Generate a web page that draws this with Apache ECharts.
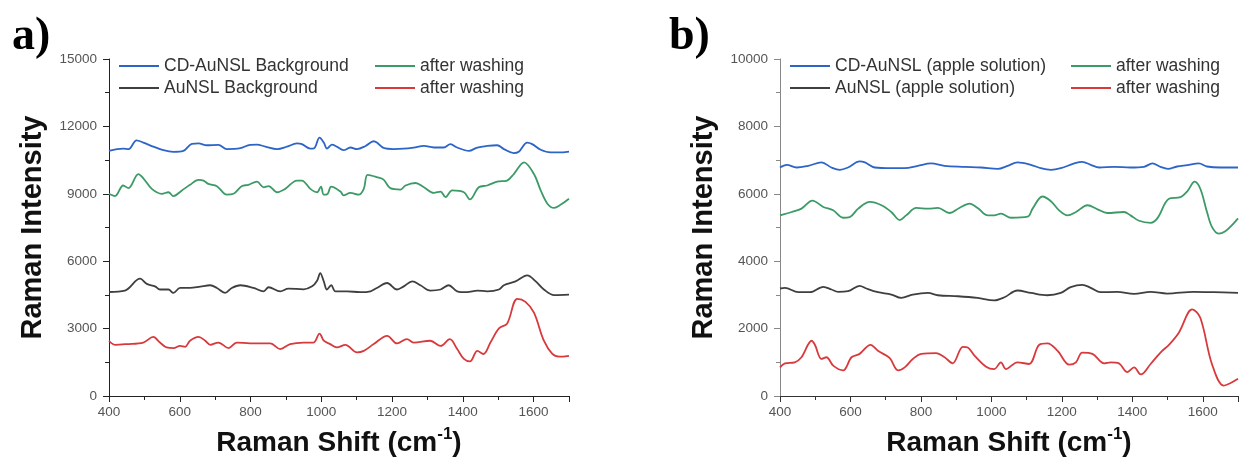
<!DOCTYPE html>
<html>
<head>
<meta charset="utf-8">
<script src="https://cdn.jsdelivr.net/npm/echarts@6/dist/echarts.min.js"></script>
<style>
html,body{margin:0;padding:0;background:#fff;}
#chart{width:1241px;height:462px;}
</style>
</head>
<body>
<div id="chart"></div>
<script>
// ---------- Panel a) ----------
const aCdBgX = [400,440,455,478,497,525,554,582,610,634,653,676,709,733,771,799,818,842,875,903,931,945,969,980,995,1007,1016,1030,1044,1063,1082,1101,1125,1148,1157,1176,1205,1233,1261,1290,1318,1346,1365,1384,1417,1441,1469,1497,1516,1544,1558,1582,1596,1620,1648,1672,1700];
const aCdBgY = [10910,11010,10990,11380,11280,11100,10940,10870,10910,11220,11240,11160,11180,10990,11030,11180,11190,11100,10990,11100,11240,11210,11010,11030,11500,11280,11010,11190,11100,10940,11060,10990,11130,11340,11280,11040,10990,11010,11060,11130,11060,11060,11210,11060,10910,11060,11130,11160,10990,10810,10870,11280,11210,10960,10840,10840,10880];

const aCdWashX = [400,417,440,455,483,497,521,549,568,582,606,629,653,667,681,705,733,752,775,794,818,837,851,875,898,931,945,969,988,999,1007,1018,1028,1054,1063,1082,1106,1120,1131,1157,1176,1195,1224,1238,1266,1290,1318,1337,1351,1370,1403,1420,1445,1469,1497,1525,1544,1573,1601,1620,1639,1658,1676,1700];
const aCdWashY = [9000,8900,9370,9250,9880,9690,9220,9000,9070,8900,9150,9400,9620,9590,9440,9340,8960,9000,9340,9400,9540,9290,9340,9070,9220,9590,9590,9220,9070,9320,8960,9000,9320,9100,8930,9040,8960,9220,9840,9740,9630,9250,9190,9370,9480,9290,9040,9100,8850,9150,9070,8750,9290,9370,9540,9590,9880,10400,9880,9150,8560,8370,8510,8780];

const aAuBgX = [400,445,488,507,530,544,568,582,601,629,658,686,705,728,747,771,808,837,851,884,907,950,974,988,997,1007,1016,1028,1040,1073,1110,1139,1157,1186,1214,1233,1257,1280,1308,1337,1360,1384,1412,1441,1469,1502,1516,1549,1582,1606,1629,1658,1700];
const aAuBgY = [4630,4690,5220,4990,4880,4740,4740,4590,4810,4810,4870,4930,4810,4590,4810,4930,4810,4660,4840,4660,4780,4750,4880,5130,5470,5100,4740,4930,4660,4660,4620,4660,4810,5030,4740,4880,5100,4930,4690,4740,4930,4660,4620,4690,4660,4740,4930,5100,5370,5100,4740,4490,4510];

const aAuWashX = [400,417,450,497,525,544,563,582,601,615,629,653,672,686,709,738,761,799,856,884,912,950,978,995,1007,1025,1044,1068,1101,1120,1148,1186,1214,1242,1261,1308,1337,1363,1384,1403,1420,1441,1458,1478,1502,1525,1554,1577,1601,1629,1653,1672,1700];
const aAuWashY = [2460,2280,2310,2380,2630,2380,2160,2130,2230,2190,2460,2630,2460,2280,2380,2130,2380,2340,2340,2090,2310,2380,2380,2780,2460,2310,2160,2280,1940,2010,2310,2680,2340,2530,2380,2460,2230,2530,2090,1650,1540,2010,1870,2380,3010,3220,4320,4190,3710,2460,1870,1750,1790];

// ---------- Panel b) ----------
const bCdAppleX = [400,419,447,480,518,546,570,593,626,641,669,716,754,791,829,867,924,971,1018,1046,1074,1112,1140,1169,1197,1235,1258,1282,1306,1348,1395,1433,1457,1480,1501,1527,1556,1589,1612,1650,1700];
const bCdAppleY = [6780,6860,6780,6830,6930,6780,6710,6780,6960,6930,6780,6760,6760,6830,6900,6830,6800,6780,6740,6830,6930,6860,6760,6710,6760,6900,6950,6860,6780,6800,6780,6800,6900,6800,6740,6810,6850,6900,6810,6780,6780];

const bCdWashX = [400,433,461,492,523,551,579,598,622,655,688,716,740,758,787,820,848,881,909,938,961,990,1008,1027,1056,1103,1117,1145,1169,1192,1216,1240,1273,1301,1329,1376,1395,1419,1452,1471,1504,1537,1556,1577,1593,1612,1626,1645,1664,1683,1700];
const bCdWashY = [5360,5460,5560,5800,5610,5510,5290,5310,5560,5760,5660,5460,5220,5360,5580,5560,5580,5430,5580,5710,5580,5360,5360,5410,5290,5320,5560,5920,5780,5510,5360,5460,5660,5540,5430,5460,5360,5200,5140,5270,5850,5900,6070,6360,6150,5460,5020,4820,4890,5070,5270];

const bAuAppleX = [400,414,452,485,523,546,565,593,626,645,678,716,744,777,820,848,905,961,1008,1037,1074,1112,1159,1197,1225,1258,1282,1310,1357,1405,1452,1499,1574,1631,1700];
const bAuAppleY = [3190,3210,3080,3080,3240,3160,3090,3110,3270,3190,3080,3010,2910,3010,3060,2990,2960,2910,2840,2930,3130,3060,2990,3060,3230,3300,3210,3080,3090,3030,3090,3040,3090,3080,3060];

const bAuWashX = [400,414,442,461,490,499,518,532,551,579,603,626,657,678,711,735,754,777,801,843,867,890,919,933,952,985,1008,1027,1041,1074,1107,1136,1159,1188,1221,1240,1258,1287,1320,1339,1362,1386,1405,1424,1452,1480,1504,1532,1570,1593,1626,1659,1678,1700];
const bAuWashY = [850,970,1000,1150,1640,1520,1100,1150,900,760,1150,1250,1520,1340,1130,760,850,1100,1250,1270,1150,970,1460,1440,1200,870,800,1000,800,1000,950,1520,1560,1340,930,1000,1290,1250,970,1000,970,710,850,640,950,1290,1520,1880,2570,2320,950,310,380,510];

// legend texts
const legendText = {
  aCdBg: 'CD-AuNSL Background', aCdWash: 'after washing',
  aAuBg: 'AuNSL Background', aAuWash: 'after washing',
  bCdApple: 'CD-AuNSL (apple solution)', bCdWash: 'after washing',
  bAuApple: 'AuNSL (apple solution)', bAuWash: 'after washing'
};

const BLUE = '#2c64c8', GREEN = '#3c9a66', GRAY = '#3f3f3f', RED = '#d83a3c';
const SANS = '"Liberation Sans", Arial, sans-serif';

function zip(xs, ys){ return xs.map((x,i)=>[x, ys[i]]); }
function line(id, xi, xs, ys, color){
  return {
    id: id, name: id, type: 'line', xAxisIndex: xi, yAxisIndex: xi,
    data: zip(xs, ys), symbol: 'none', smooth: 0.35,
    lineStyle: {color: color, width: 1.8}, itemStyle: {color: color},
    emphasis: {disabled: true}, animation: false
  };
}

function xAxis(gi, axisColor){
  return {
    type: 'value', gridIndex: gi, min: 400, max: 1700, interval: 200,
    axisLine: {show: true, lineStyle: {color: axisColor, width: 1}},
    axisTick: {show: true, length: 6, lineStyle: {color: axisColor}},
    minorTick: {show: true, splitNumber: 2, length: 4, lineStyle: {color: axisColor}},
    splitLine: {show: false},
    axisLabel: {fontSize: 13.5, color: '#555', margin: 9, fontFamily: SANS,
      formatter: v => (v === 1700 ? '' : String(v))},
    name: '{a|Raman Shift (cm}{s|-1}{a|)}',
    nameLocation: 'middle', nameGap: 30,
    nameTextStyle: {
      rich: {
        a: {fontSize: 28, fontWeight: 'bold', fontFamily: SANS, color: '#111', lineHeight: 34},
        s: {fontSize: 17, fontWeight: 'bold', fontFamily: SANS, color: '#111', verticalAlign: 'top', lineHeight: 17}
      }
    }
  };
}
function yAxis(gi, max, interval, axisColor){
  return {
    type: 'value', gridIndex: gi, min: 0, max: max, interval: interval,
    axisLine: {show: true, lineStyle: {color: axisColor, width: 1}},
    axisTick: {show: true, length: 6, lineStyle: {color: axisColor}},
    minorTick: {show: true, splitNumber: 2, length: 4, lineStyle: {color: axisColor}},
    splitLine: {show: false},
    axisLabel: {fontSize: 13.5, color: '#555', margin: 12, fontFamily: SANS,
      formatter: v => String(v)},
    name: 'Raman Intensity', nameLocation: 'middle', nameGap: 62,
    nameTextStyle: {fontSize: 29, fontWeight: 'bold', fontFamily: SANS, color: '#111'}
  };
}
function legend(left, names){
  return {
    left: left, top: 57, orient: 'vertical', padding: 0, itemGap: 4,
    itemWidth: 40, itemHeight: 2.2, icon: 'rect', selectedMode: false,
    data: names, formatter: n => legendText[n],
    textStyle: {fontSize: 17.5, color: '#333', fontFamily: SANS, lineHeight: 18}
  };
}

const chart = echarts.init(document.getElementById('chart'), null, {renderer: 'canvas'});
chart.setOption({
  backgroundColor: '#fff',
  animation: false,
  grid: [
    {left: 109, right: 672, top: 59, bottom: 63},
    {left: 780, right: 1, top: 59, bottom: 63}
  ],
  xAxis: [xAxis(0, '#222'), xAxis(1, '#333')],
  yAxis: [yAxis(0, 15000, 3000, '#222'), yAxis(1, 10000, 2000, '#888')],
  legend: [
    legend(119, ['aCdBg', 'aAuBg']),
    legend(375, ['aCdWash', 'aAuWash']),
    legend(790, ['bCdApple', 'bAuApple']),
    legend(1071, ['bCdWash', 'bAuWash'])
  ],
  graphic: [
    {type: 'text', left: 12, top: 14, style: {text: 'a)', font: 'bold 46px "Liberation Serif", "Times New Roman", serif', fill: '#000'}},
    {type: 'text', left: 669, top: 14, style: {text: 'b)', font: 'bold 46px "Liberation Serif", "Times New Roman", serif', fill: '#000'}}
  ],
  series: [
    line('aCdBg', 0, aCdBgX, aCdBgY, BLUE),
    line('aCdWash', 0, aCdWashX, aCdWashY, GREEN),
    line('aAuBg', 0, aAuBgX, aAuBgY, GRAY),
    line('aAuWash', 0, aAuWashX, aAuWashY, RED),
    line('bCdApple', 1, bCdAppleX, bCdAppleY, BLUE),
    line('bCdWash', 1, bCdWashX, bCdWashY, GREEN),
    line('bAuApple', 1, bAuAppleX, bAuAppleY, GRAY),
    line('bAuWash', 1, bAuWashX, bAuWashY, RED)
  ]
});
</script>
</body>
</html>
